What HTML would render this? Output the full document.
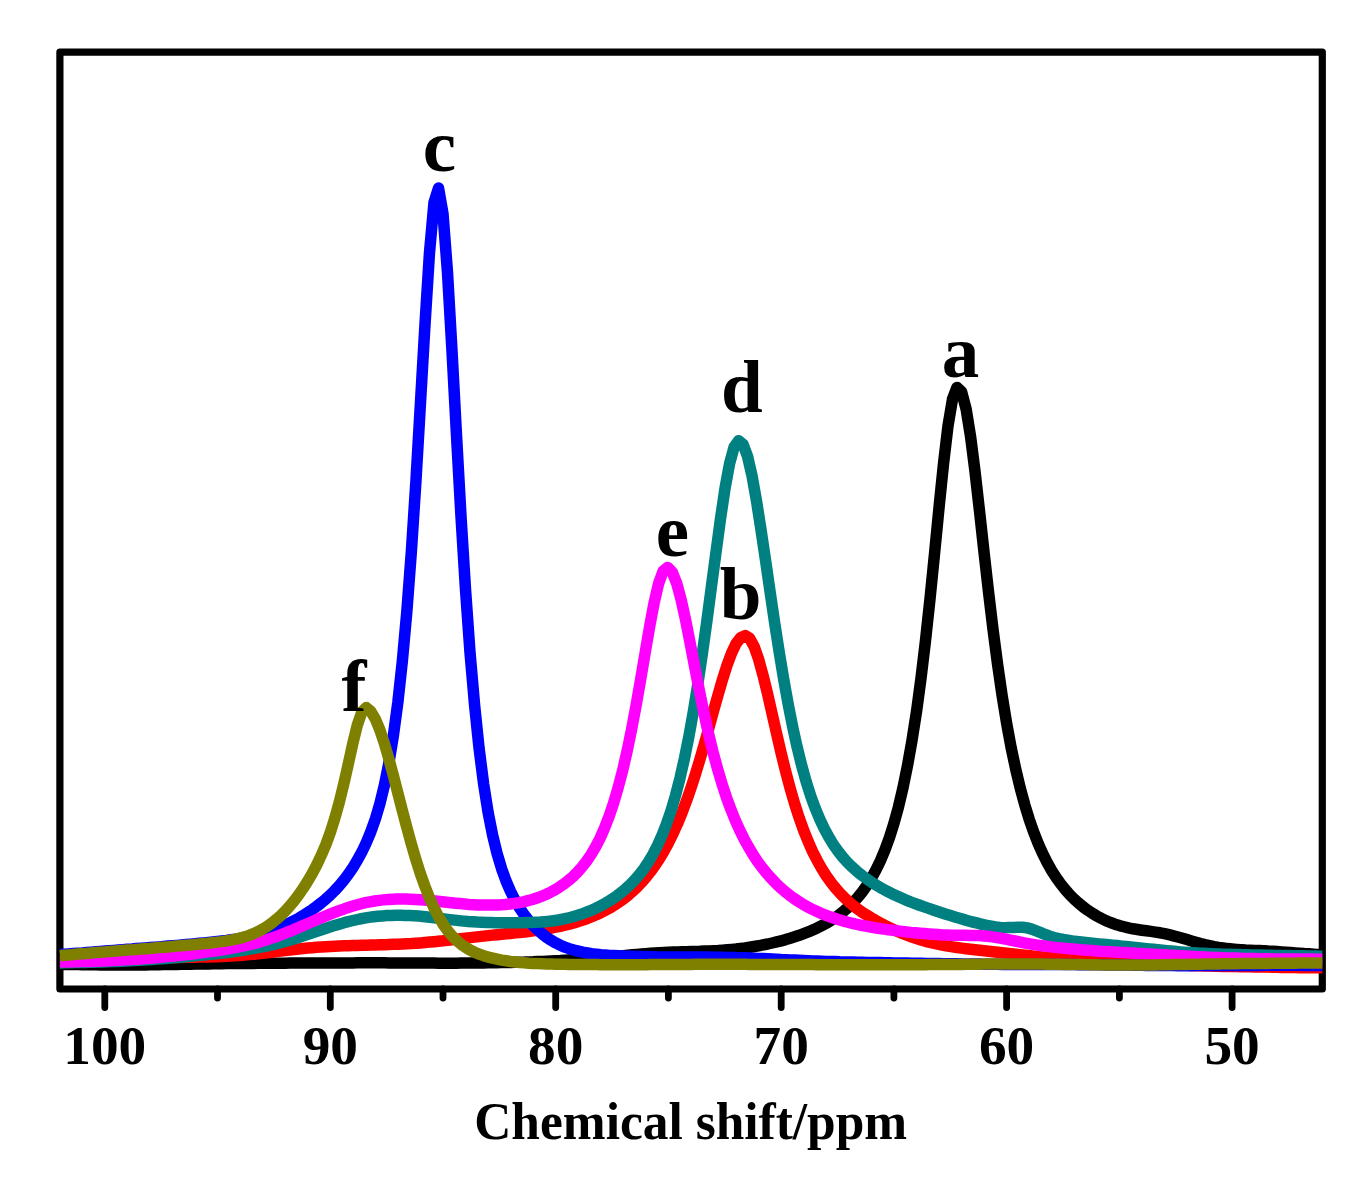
<!DOCTYPE html>
<html lang="en"><head><meta charset="utf-8"><title>Chemical shift spectra</title>
<style>html,body{margin:0;padding:0;background:#fff;}svg{display:block;}text{font-family:"Liberation Serif",serif;font-weight:bold;fill:#000;}.c{fill:none;stroke-width:11.5;stroke-linejoin:round;stroke-linecap:butt;}.t{stroke:#000;stroke-width:6.8;stroke-linecap:round;}</style></head>
<body>
<svg width="1363" height="1197" viewBox="0 0 1363 1197">
<rect width="1363" height="1197" fill="#fff"/>
<rect x="59.9" y="52.2" width="1262.4" height="936.8" fill="none" stroke="#000" stroke-width="7.2" stroke-linejoin="round"/>
<g class="t">
<line x1="104.8" y1="989.0" x2="104.8" y2="1007.6"/>
<line x1="217.5" y1="989.0" x2="217.5" y2="998.0"/>
<line x1="330.3" y1="989.0" x2="330.3" y2="1007.6"/>
<line x1="443.0" y1="989.0" x2="443.0" y2="998.0"/>
<line x1="555.7" y1="989.0" x2="555.7" y2="1007.6"/>
<line x1="668.4" y1="989.0" x2="668.4" y2="998.0"/>
<line x1="781.2" y1="989.0" x2="781.2" y2="1007.6"/>
<line x1="893.9" y1="989.0" x2="893.9" y2="998.0"/>
<line x1="1006.6" y1="989.0" x2="1006.6" y2="1007.6"/>
<line x1="1119.4" y1="989.0" x2="1119.4" y2="998.0"/>
<line x1="1232.1" y1="989.0" x2="1232.1" y2="1007.6"/>
</g>
<g>
<path class="c" stroke="#000000" d="M59.9 964.4L64.2 964.5L68.7 964.5L73.2 964.6L77.7 964.6L82.3 964.7L86.8 964.7L91.3 964.8L95.8 964.8L100.3 964.9L104.8 964.9L109.3 965.0L113.8 965.0L118.3 965.0L122.8 965.0L127.3 965.0L131.9 965.0L136.4 965.0L140.9 964.9L145.4 964.9L149.9 964.8L154.4 964.8L158.9 964.7L163.4 964.6L167.9 964.6L172.4 964.5L176.9 964.4L181.5 964.3L186.0 964.3L190.5 964.2L195.0 964.1L199.5 964.0L204.0 963.9L208.5 963.9L213.0 963.8L217.5 963.7L222.0 963.7L226.5 963.6L231.1 963.6L235.6 963.5L240.1 963.5L244.6 963.4L249.1 963.4L253.6 963.4L258.1 963.3L262.6 963.3L267.1 963.3L271.6 963.2L276.1 963.2L280.7 963.2L285.2 963.2L289.7 963.1L294.2 963.1L298.7 963.1L303.2 963.1L307.7 963.0L312.2 963.0L316.7 963.0L321.2 963.0L325.8 963.0L330.3 962.9L334.8 962.9L339.3 962.9L343.8 962.9L348.3 962.9L352.8 962.9L357.3 962.8L361.8 962.8L366.3 962.8L370.8 962.8L375.4 962.8L379.9 962.8L384.4 962.8L388.9 962.9L393.4 962.9L397.9 962.9L402.4 962.9L406.9 963.0L411.4 963.0L415.9 963.0L420.4 963.1L425.0 963.1L429.5 963.1L434.0 963.1L438.5 963.2L443.0 963.2L447.5 963.2L452.0 963.2L456.5 963.2L461.0 963.1L465.5 963.1L470.0 963.1L474.6 963.0L479.1 963.0L483.6 962.9L488.1 962.8L492.6 962.8L497.1 962.7L501.6 962.6L506.1 962.5L510.6 962.4L515.1 962.3L519.6 962.2L524.2 962.1L528.7 961.9L533.2 961.8L537.7 961.6L542.2 961.4L546.7 961.2L551.2 961.0L555.7 960.8L560.2 960.6L564.7 960.3L569.2 960.0L573.8 959.8L578.3 959.5L582.8 959.2L587.3 958.8L591.8 958.5L596.3 958.1L600.8 957.7L605.3 957.3L609.8 956.9L614.3 956.5L618.8 956.1L623.4 955.7L627.9 955.2L632.4 954.8L636.9 954.4L641.4 954.0L645.9 953.7L650.4 953.3L654.9 953.0L659.4 952.7L663.9 952.5L668.4 952.3L673.0 952.1L677.5 951.9L682.0 951.8L686.5 951.7L691.0 951.5L695.5 951.4L700.0 951.3L704.5 951.1L709.0 950.9L713.5 950.7L718.1 950.5L722.6 950.2L727.1 949.8L731.6 949.4L736.1 949.0L740.6 948.4L745.1 947.9L749.6 947.2L754.1 946.5L758.6 945.8L763.1 944.9L767.7 944.0L772.2 943.0L776.7 941.9L781.2 940.8L785.7 939.6L790.2 938.2L794.7 936.8L799.2 935.3L803.7 933.6L808.2 931.9L812.7 929.9L817.3 927.9L821.8 925.6L826.3 923.2L830.8 920.5L835.3 917.6L839.8 914.3L844.3 910.7L848.8 906.8L853.3 902.3L857.8 897.4L862.3 891.8L866.9 885.4L871.4 878.3L875.9 870.1L880.4 860.8L884.9 850.1L889.4 837.8L893.9 823.6L898.4 807.2L902.9 788.2L907.4 766.2L911.9 740.9L916.5 711.7L921.0 678.3L925.5 640.6L930.0 598.8L934.5 554.0L939.0 507.9L943.5 463.8L948.0 425.9L952.5 399.1L957.0 387.4L961.5 391.6L966.1 408.9L970.6 436.8L975.1 472.3L979.6 511.9L984.1 552.8L988.6 592.6L993.1 630.1L997.6 664.5L1002.1 695.5L1006.6 723.1L1011.1 747.5L1015.7 769.1L1020.2 788.0L1024.7 804.6L1029.2 819.3L1033.7 832.2L1038.2 843.6L1042.7 853.7L1047.2 862.6L1051.7 870.6L1056.2 877.6L1060.8 884.0L1065.3 889.6L1069.8 894.7L1074.3 899.2L1078.8 903.3L1083.3 907.0L1087.8 910.3L1092.3 913.3L1096.8 916.0L1101.3 918.4L1105.8 920.6L1110.4 922.5L1114.9 924.2L1119.4 925.6L1123.9 926.8L1128.4 927.9L1132.9 928.8L1137.4 929.5L1141.9 930.2L1146.4 930.8L1150.9 931.4L1155.4 932.1L1160.0 932.8L1164.5 933.7L1169.0 934.7L1173.5 935.8L1178.0 937.0L1182.5 938.3L1187.0 939.6L1191.5 940.9L1196.0 942.2L1200.5 943.5L1205.0 944.6L1209.6 945.6L1214.1 946.6L1218.6 947.4L1223.1 948.0L1227.6 948.6L1232.1 949.0L1236.6 949.4L1241.1 949.7L1245.6 950.0L1250.1 950.2L1254.6 950.4L1259.2 950.6L1263.7 950.8L1268.2 951.1L1272.7 951.3L1277.2 951.6L1281.7 951.9L1286.2 952.2L1290.7 952.5L1295.2 952.9L1299.7 953.2L1304.2 953.6L1308.8 953.8L1313.3 954.2L1317.8 954.5L1322.3 954.9"/>
<path class="c" stroke="#ff0000" d="M59.9 962.1L64.2 962.0L68.7 962.0L73.2 961.9L77.7 961.8L82.3 961.7L86.8 961.6L91.3 961.5L95.8 961.3L100.3 961.2L104.8 961.1L109.3 960.9L113.8 960.7L118.3 960.6L122.8 960.3L127.3 960.1L131.9 959.9L136.4 959.6L140.9 959.3L145.4 959.0L149.9 958.7L154.4 958.5L158.9 958.2L163.4 958.0L167.9 957.8L172.4 957.7L176.9 957.6L181.5 957.4L186.0 957.3L190.5 957.3L195.0 957.2L199.5 957.1L204.0 957.0L208.5 956.9L213.0 956.8L217.5 956.7L222.0 956.5L226.5 956.3L231.1 956.0L235.6 955.8L240.1 955.4L244.6 955.0L249.1 954.6L253.6 954.2L258.1 953.7L262.6 953.2L267.1 952.7L271.6 952.2L276.1 951.6L280.7 951.1L285.2 950.5L289.7 950.0L294.2 949.5L298.7 949.0L303.2 948.5L307.7 948.1L312.2 947.7L316.7 947.3L321.2 947.0L325.8 946.7L330.3 946.4L334.8 946.2L339.3 946.0L343.8 945.8L348.3 945.7L352.8 945.5L357.3 945.4L361.8 945.3L366.3 945.2L370.8 945.0L375.4 944.9L379.9 944.8L384.4 944.7L388.9 944.5L393.4 944.3L397.9 944.2L402.4 943.9L406.9 943.7L411.4 943.5L415.9 943.2L420.4 942.9L425.0 942.5L429.5 942.1L434.0 941.7L438.5 941.2L443.0 940.8L447.5 940.2L452.0 939.7L456.5 939.2L461.0 938.6L465.5 938.1L470.0 937.6L474.6 937.1L479.1 936.6L483.6 936.1L488.1 935.6L492.6 935.1L497.1 934.7L501.6 934.2L506.1 933.8L510.6 933.4L515.1 932.9L519.6 932.5L524.2 932.0L528.7 931.5L533.2 930.9L537.7 930.3L542.2 929.6L546.7 928.9L551.2 928.1L555.7 927.2L560.2 926.3L564.7 925.2L569.2 924.1L573.8 922.9L578.3 921.5L582.8 920.1L587.3 918.5L591.8 916.7L596.3 914.8L600.8 912.7L605.3 910.4L609.8 908.0L614.3 905.2L618.8 902.2L623.4 899.0L627.9 895.4L632.4 891.5L636.9 887.3L641.4 882.6L645.9 877.5L650.4 871.8L654.9 865.6L659.4 858.8L663.9 851.2L668.4 842.9L673.0 833.7L677.5 823.7L682.0 812.7L686.5 800.8L691.0 787.8L695.5 773.9L700.0 759.1L704.5 743.6L709.0 727.4L713.5 711.0L718.1 694.8L722.6 679.2L727.1 665.1L731.6 653.0L736.1 643.6L740.6 637.7L745.1 635.6L749.6 638.2L754.1 646.4L758.6 659.2L763.1 675.7L767.7 694.4L772.2 714.2L776.7 734.1L781.2 753.4L785.7 771.7L790.2 788.5L794.7 804.0L799.2 817.9L803.7 830.5L808.2 841.7L812.7 851.8L817.3 860.7L821.8 868.7L826.3 875.9L830.8 882.2L835.3 887.9L839.8 893.0L844.3 897.6L848.8 901.8L853.3 905.6L857.8 909.1L862.3 912.3L866.9 915.2L871.4 918.0L875.9 920.6L880.4 923.0L884.9 925.4L889.4 927.6L893.9 929.7L898.4 931.7L902.9 933.6L907.4 935.3L911.9 937.0L916.5 938.5L921.0 940.0L925.5 941.3L930.0 942.4L934.5 943.5L939.0 944.5L943.5 945.4L948.0 946.2L952.5 946.9L957.0 947.5L961.5 948.1L966.1 948.7L970.6 949.2L975.1 949.7L979.6 950.2L984.1 950.7L988.6 951.2L993.1 951.7L997.6 952.2L1002.1 952.7L1006.6 953.2L1011.1 953.7L1015.7 954.2L1020.2 954.7L1024.7 955.2L1029.2 955.6L1033.7 956.1L1038.2 956.5L1042.7 956.9L1047.2 957.4L1051.7 957.7L1056.2 958.1L1060.8 958.5L1065.3 958.8L1069.8 959.2L1074.3 959.5L1078.8 959.8L1083.3 960.1L1087.8 960.4L1092.3 960.7L1096.8 960.9L1101.3 961.2L1105.8 961.5L1110.4 961.7L1114.9 961.9L1119.4 962.2L1123.9 962.4L1128.4 962.6L1132.9 962.9L1137.4 963.1L1141.9 963.3L1146.4 963.5L1150.9 963.8L1155.4 964.0L1160.0 964.2L1164.5 964.4L1169.0 964.6L1173.5 964.8L1178.0 965.0L1182.5 965.2L1187.0 965.3L1191.5 965.5L1196.0 965.7L1200.5 965.8L1205.0 965.9L1209.6 966.0L1214.1 966.2L1218.6 966.3L1223.1 966.4L1227.6 966.4L1232.1 966.5L1236.6 966.6L1241.1 966.7L1245.6 966.8L1250.1 966.8L1254.6 966.9L1259.2 967.0L1263.7 967.1L1268.2 967.1L1272.7 967.2L1277.2 967.3L1281.7 967.4L1286.2 967.5L1290.7 967.5L1295.2 967.6L1299.7 967.7L1304.2 967.7L1308.8 967.6L1313.3 967.7L1317.8 967.8L1322.3 967.8"/>
<path class="c" stroke="#0000ff" d="M59.9 954.6L64.2 954.3L68.7 954.0L73.2 953.6L77.7 953.2L82.3 952.9L86.8 952.5L91.3 952.2L95.8 951.8L100.3 951.4L104.8 951.1L109.3 950.7L113.8 950.4L118.3 950.0L122.8 949.7L127.3 949.3L131.9 949.0L136.4 948.6L140.9 948.3L145.4 947.9L149.9 947.6L154.4 947.2L158.9 946.9L163.4 946.5L167.9 946.1L172.4 945.7L176.9 945.4L181.5 945.0L186.0 944.6L190.5 944.2L195.0 943.8L199.5 943.3L204.0 942.9L208.5 942.5L213.0 942.0L217.5 941.5L222.0 940.9L226.5 940.4L231.1 939.7L235.6 939.1L240.1 938.3L244.6 937.5L249.1 936.6L253.6 935.6L258.1 934.5L262.6 933.2L267.1 931.8L271.6 930.3L276.1 928.7L280.7 926.9L285.2 925.0L289.7 922.9L294.2 920.6L298.7 918.2L303.2 915.6L307.7 912.7L312.2 909.7L316.7 906.4L321.2 902.9L325.8 899.1L330.3 895.0L334.8 890.5L339.3 885.6L343.8 880.2L348.3 874.3L352.8 867.7L357.3 860.3L361.8 852.1L366.3 842.6L370.8 831.7L375.4 818.9L379.9 803.6L384.4 785.2L388.9 762.9L393.4 735.5L397.9 701.9L402.4 660.7L406.9 610.8L411.4 551.1L415.9 481.6L420.4 404.2L425.0 324.4L429.5 252.4L434.0 202.5L438.5 188.1L443.0 213.7L447.5 272.5L452.0 350.9L456.5 435.3L461.0 516.5L465.5 589.4L470.0 652.4L474.6 705.2L479.1 748.6L483.6 783.8L488.1 812.3L492.6 835.1L497.1 853.6L501.6 868.7L506.1 881.1L510.6 891.5L515.1 900.4L519.6 908.0L524.2 914.7L528.7 920.5L533.2 925.6L537.7 930.0L542.2 933.9L546.7 937.4L551.2 940.3L555.7 942.9L560.2 945.2L564.7 947.1L569.2 948.7L573.8 950.1L578.3 951.2L582.8 952.2L587.3 953.0L591.8 953.7L596.3 954.2L600.8 954.7L605.3 955.0L609.8 955.4L614.3 955.6L618.8 955.8L623.4 956.0L627.9 956.2L632.4 956.3L636.9 956.4L641.4 956.6L645.9 956.6L650.4 956.7L654.9 956.8L659.4 956.9L663.9 956.9L668.4 956.9L673.0 957.0L677.5 957.0L682.0 957.0L686.5 957.0L691.0 957.0L695.5 957.0L700.0 957.1L704.5 957.1L709.0 957.1L713.5 957.2L718.1 957.2L722.6 957.3L727.1 957.4L731.6 957.4L736.1 957.6L740.6 957.7L745.1 957.8L749.6 958.0L754.1 958.2L758.6 958.4L763.1 958.6L767.7 958.8L772.2 959.0L776.7 959.2L781.2 959.5L785.7 959.7L790.2 959.9L794.7 960.1L799.2 960.3L803.7 960.5L808.2 960.7L812.7 960.9L817.3 961.1L821.8 961.2L826.3 961.4L830.8 961.5L835.3 961.6L839.8 961.8L844.3 961.9L848.8 962.0L853.3 962.1L857.8 962.2L862.3 962.3L866.9 962.4L871.4 962.5L875.9 962.6L880.4 962.6L884.9 962.7L889.4 962.8L893.9 962.9L898.4 963.0L902.9 963.0L907.4 963.1L911.9 963.2L916.5 963.2L921.0 963.3L925.5 963.4L930.0 963.5L934.5 963.5L939.0 963.6L943.5 963.7L948.0 963.7L952.5 963.8L957.0 963.8L961.5 963.9L966.1 964.0L970.6 964.0L975.1 964.1L979.6 964.1L984.1 964.2L988.6 964.2L993.1 964.3L997.6 964.3L1002.1 964.4L1006.6 964.4L1011.1 964.4L1015.7 964.5L1020.2 964.5L1024.7 964.5L1029.2 964.5L1033.7 964.6L1038.2 964.6L1042.7 964.6L1047.2 964.6L1051.7 964.6L1056.2 964.6L1060.8 964.6L1065.3 964.6L1069.8 964.6L1074.3 964.6L1078.8 964.7L1083.3 964.7L1087.8 964.7L1092.3 964.7L1096.8 964.8L1101.3 964.8L1105.8 964.9L1110.4 964.9L1114.9 965.0L1119.4 965.0L1123.9 965.1L1128.4 965.1L1132.9 965.2L1137.4 965.3L1141.9 965.3L1146.4 965.4L1150.9 965.4L1155.4 965.5L1160.0 965.5L1164.5 965.6L1169.0 965.6L1173.5 965.6L1178.0 965.7L1182.5 965.7L1187.0 965.7L1191.5 965.7L1196.0 965.6L1200.5 965.6L1205.0 965.6L1209.6 965.6L1214.1 965.6L1218.6 965.5L1223.1 965.5L1227.6 965.5L1232.1 965.5L1236.6 965.4L1241.1 965.4L1245.6 965.4L1250.1 965.4L1254.6 965.4L1259.2 965.4L1263.7 965.3L1268.2 965.3L1272.7 965.3L1277.2 965.3L1281.7 965.3L1286.2 965.3L1290.7 965.3L1295.2 965.3L1299.7 965.3L1304.2 965.4L1308.8 965.4L1313.3 965.4L1317.8 965.4L1322.3 965.5"/>
<path class="c" stroke="#008080" d="M59.9 962.9L62.2 962.9L66.7 962.8L71.2 962.7L75.7 962.6L80.3 962.5L84.8 962.4L89.3 962.3L93.8 962.2L98.3 962.0L102.8 961.9L107.3 961.7L111.8 961.6L116.3 961.4L120.8 961.2L125.3 961.0L129.9 960.7L134.4 960.5L138.9 960.3L143.4 960.0L147.9 959.7L152.4 959.4L156.9 959.1L161.4 958.7L165.9 958.4L170.4 958.0L174.9 957.7L179.5 957.3L184.0 956.9L188.5 956.5L193.0 956.1L197.5 955.6L202.0 955.2L206.5 954.8L211.0 954.3L215.5 953.8L220.0 953.3L224.5 952.7L229.1 952.2L233.6 951.6L238.1 951.0L242.6 950.3L247.1 949.6L251.6 948.9L256.1 948.1L260.6 947.2L265.1 946.3L269.6 945.3L274.1 944.3L278.7 943.2L283.2 942.0L287.7 940.7L292.2 939.4L296.7 938.1L301.2 936.6L305.7 935.1L310.2 933.6L314.7 932.1L319.2 930.6L323.8 929.0L328.3 927.5L332.8 926.1L337.3 924.7L341.8 923.4L346.3 922.1L350.8 921.0L355.3 920.0L359.8 919.0L364.3 918.2L368.8 917.4L373.4 916.8L377.9 916.3L382.4 915.9L386.9 915.6L391.4 915.4L395.9 915.3L400.4 915.3L404.9 915.4L409.4 915.5L413.9 915.8L418.4 916.1L423.0 916.5L427.5 917.0L432.0 917.5L436.5 918.0L441.0 918.5L445.5 919.1L450.0 919.6L454.5 920.1L459.0 920.6L463.5 921.1L468.0 921.5L472.6 921.8L477.1 922.1L481.6 922.3L486.1 922.5L490.6 922.6L495.1 922.7L499.6 922.8L504.1 922.8L508.6 922.8L513.1 922.8L517.6 922.8L522.2 922.7L526.7 922.6L531.2 922.5L535.7 922.3L540.2 922.1L544.7 921.7L549.2 921.3L553.7 920.7L558.2 920.0L562.7 919.1L567.2 918.2L571.8 917.0L576.3 915.7L580.8 914.3L585.3 912.7L589.8 910.9L594.3 908.9L598.8 906.8L603.3 904.4L607.8 901.8L612.3 899.0L616.8 895.9L621.4 892.4L625.9 888.6L630.4 884.5L634.9 879.8L639.4 874.6L643.9 868.7L648.4 862.0L652.9 854.4L657.4 845.7L661.9 835.6L666.4 824.1L671.0 810.8L675.5 795.5L680.0 778.1L684.5 758.2L689.0 735.8L693.5 710.7L698.0 682.9L702.5 652.6L707.0 620.1L711.5 586.0L716.1 551.4L720.6 518.1L725.1 487.9L729.6 463.5L734.1 447.1L738.6 440.7L743.1 444.4L747.6 456.6L752.1 476.3L756.6 501.6L761.1 530.5L765.7 561.4L770.2 592.6L774.7 623.1L779.2 652.2L783.7 679.3L788.2 704.3L792.7 727.0L797.2 747.4L801.7 765.6L806.2 781.7L810.7 795.9L815.3 808.4L819.8 819.3L824.3 828.8L828.8 837.1L833.3 844.5L837.8 850.9L842.3 856.6L846.8 861.7L851.3 866.2L855.8 870.3L860.3 874.1L864.9 877.5L869.4 880.7L873.9 883.7L878.4 886.4L882.9 889.0L887.4 891.4L891.9 893.7L896.4 895.8L900.9 897.8L905.4 899.8L909.9 901.6L914.5 903.3L919.0 905.0L923.5 906.6L928.0 908.2L932.5 909.7L937.0 911.2L941.5 912.7L946.0 914.2L950.5 915.6L955.0 917.0L959.5 918.3L964.1 919.6L968.6 920.9L973.1 922.1L977.6 923.2L982.1 924.3L986.6 925.3L991.1 926.2L995.6 927.0L1000.1 927.5L1004.6 927.7L1009.1 927.6L1013.7 927.4L1018.2 927.2L1022.7 927.3L1027.2 927.9L1031.7 929.1L1036.2 930.8L1040.7 932.6L1045.2 934.5L1049.7 936.2L1054.2 937.5L1058.8 938.6L1063.3 939.5L1067.8 940.2L1072.3 940.9L1076.8 941.4L1081.3 942.0L1085.8 942.5L1090.3 943.0L1094.8 943.4L1099.3 943.9L1103.8 944.3L1108.4 944.8L1112.9 945.2L1117.4 945.6L1121.9 946.1L1126.4 946.5L1130.9 947.0L1135.4 947.4L1139.9 947.9L1144.4 948.4L1148.9 948.9L1153.4 949.3L1158.0 949.8L1162.5 950.3L1167.0 950.7L1171.5 951.1L1176.0 951.5L1180.5 951.9L1185.0 952.3L1189.5 952.6L1194.0 952.8L1198.5 953.1L1203.0 953.3L1207.6 953.5L1212.1 953.7L1216.6 953.9L1221.1 954.1L1225.6 954.2L1230.1 954.3L1234.6 954.5L1239.1 954.6L1243.6 954.7L1248.1 954.8L1252.6 954.9L1257.2 955.0L1261.7 955.1L1266.2 955.2L1270.7 955.3L1275.2 955.4L1279.7 955.4L1284.2 955.5L1288.7 955.6L1293.2 955.7L1297.7 955.7L1302.2 955.8L1306.8 955.9L1311.3 956.1L1315.8 956.1L1320.3 956.2L1322.3 956.2"/>
<path class="c" stroke="#ff00ff" d="M59.9 962.0L63.4 962.0L67.9 961.9L72.4 961.8L76.9 961.7L81.5 961.6L86.0 961.5L90.5 961.4L95.0 961.2L99.5 961.1L104.0 960.9L108.5 960.7L113.0 960.5L117.5 960.3L122.0 960.1L126.5 959.8L131.1 959.6L135.6 959.3L140.1 958.9L144.6 958.6L149.1 958.3L153.6 957.9L158.1 957.5L162.6 957.1L167.1 956.6L171.6 956.2L176.1 955.7L180.7 955.2L185.2 954.7L189.7 954.2L194.2 953.7L198.7 953.1L203.2 952.5L207.7 951.9L212.2 951.3L216.7 950.7L221.2 950.0L225.7 949.3L230.3 948.5L234.8 947.7L239.3 946.8L243.8 945.9L248.3 944.9L252.8 943.8L257.3 942.6L261.8 941.3L266.3 939.9L270.8 938.4L275.3 936.8L279.9 935.2L284.4 933.4L288.9 931.6L293.4 929.8L297.9 927.8L302.4 925.9L306.9 923.9L311.4 922.0L315.9 920.0L320.4 918.1L325.0 916.2L329.5 914.4L334.0 912.6L338.5 910.9L343.0 909.3L347.5 907.7L352.0 906.3L356.5 905.0L361.0 903.8L365.5 902.7L370.0 901.8L374.6 901.0L379.1 900.4L383.6 899.9L388.1 899.5L392.6 899.2L397.1 899.1L401.6 899.0L406.1 899.1L410.6 899.2L415.1 899.4L419.6 899.7L424.2 900.0L428.7 900.4L433.2 900.8L437.7 901.3L442.2 901.8L446.7 902.2L451.2 902.7L455.7 903.2L460.2 903.6L464.7 904.0L469.2 904.4L473.8 904.7L478.3 904.9L482.8 905.1L487.3 905.1L491.8 905.1L496.3 905.0L500.8 904.8L505.3 904.5L509.8 904.0L514.3 903.4L518.8 902.7L523.4 901.8L527.9 900.7L532.4 899.5L536.9 898.0L541.4 896.4L545.9 894.5L550.4 892.3L554.9 889.9L559.4 887.1L563.9 884.0L568.4 880.5L573.0 876.6L577.5 872.1L582.0 867.0L586.5 861.3L591.0 854.6L595.5 847.0L600.0 838.3L604.5 828.2L609.0 816.6L613.5 803.3L618.0 788.1L622.6 770.7L627.1 751.1L631.6 729.3L636.1 705.4L640.6 679.7L645.1 653.1L649.6 626.8L654.1 602.9L658.6 583.5L663.1 571.1L667.6 567.4L672.2 572.0L676.7 583.3L681.2 600.0L685.7 620.6L690.2 643.4L694.7 666.8L699.2 689.9L703.7 711.8L708.2 732.3L712.7 750.9L717.3 767.9L721.8 783.2L726.3 796.9L730.8 809.2L735.3 820.4L739.8 830.4L744.3 839.4L748.8 847.6L753.3 855.0L757.8 861.8L762.3 867.9L766.9 873.5L771.4 878.6L775.9 883.3L780.4 887.6L784.9 891.5L789.4 895.1L793.9 898.4L798.4 901.4L802.9 904.2L807.4 906.8L811.9 909.1L816.5 911.3L821.0 913.3L825.5 915.1L830.0 916.8L834.5 918.3L839.0 919.7L843.5 921.1L848.0 922.3L852.5 923.4L857.0 924.4L861.5 925.3L866.1 926.2L870.6 927.0L875.1 927.8L879.6 928.5L884.1 929.1L888.6 929.8L893.1 930.3L897.6 930.9L902.1 931.4L906.6 931.9L911.1 932.4L915.7 932.8L920.2 933.2L924.7 933.6L929.2 934.0L933.7 934.3L938.2 934.6L942.7 934.9L947.2 935.0L951.7 935.2L956.2 935.2L960.7 935.3L965.3 935.3L969.8 935.4L974.3 935.4L978.8 935.6L983.3 935.9L987.8 936.3L992.3 936.9L996.8 937.6L1001.3 938.3L1005.8 939.2L1010.3 940.1L1014.9 941.0L1019.4 941.9L1023.9 942.8L1028.4 943.6L1032.9 944.4L1037.4 945.1L1041.9 945.7L1046.4 946.3L1050.9 946.9L1055.4 947.4L1060.0 947.9L1064.5 948.3L1069.0 948.7L1073.5 949.1L1078.0 949.5L1082.5 949.9L1087.0 950.2L1091.5 950.5L1096.0 950.9L1100.5 951.2L1105.0 951.4L1109.6 951.7L1114.1 952.0L1118.6 952.3L1123.1 952.5L1127.6 952.8L1132.1 953.0L1136.6 953.3L1141.1 953.5L1145.6 953.8L1150.1 954.0L1154.6 954.3L1159.2 954.5L1163.7 954.8L1168.2 955.1L1172.7 955.3L1177.2 955.6L1181.7 955.8L1186.2 956.1L1190.7 956.3L1195.2 956.6L1199.7 956.8L1204.2 957.0L1208.8 957.2L1213.3 957.4L1217.8 957.5L1222.3 957.7L1226.8 957.9L1231.3 958.0L1235.8 958.1L1240.3 958.3L1244.8 958.4L1249.3 958.5L1253.8 958.6L1258.4 958.7L1262.9 958.7L1267.4 958.8L1271.9 958.9L1276.4 958.9L1280.9 959.0L1285.4 959.0L1289.9 959.1L1294.4 959.1L1298.9 959.1L1303.4 959.2L1308.0 959.1L1312.5 959.1L1317.0 959.2L1322.3 959.2"/>
<path class="c" stroke="#808000" d="M59.9 955.7L64.2 955.3L68.7 954.9L73.2 954.5L77.7 954.1L82.3 953.7L86.8 953.4L91.3 953.0L95.8 952.6L100.3 952.2L104.8 951.9L109.3 951.5L113.8 951.2L118.3 950.8L122.8 950.5L127.3 950.1L131.9 949.8L136.4 949.4L140.9 949.1L145.4 948.7L149.9 948.4L154.4 948.0L158.9 947.6L163.4 947.2L167.9 946.9L172.4 946.5L176.9 946.1L181.5 945.7L186.0 945.3L190.5 944.9L195.0 944.5L199.5 944.1L204.0 943.6L208.5 943.2L213.0 942.7L217.5 942.1L222.0 941.6L226.5 940.9L231.1 940.1L235.6 939.2L240.1 938.1L244.6 936.9L249.1 935.4L253.6 933.6L258.1 931.5L262.6 929.1L267.1 926.4L271.6 923.2L276.1 919.6L280.7 915.6L285.2 911.1L289.7 906.1L294.2 900.7L298.7 894.8L303.2 888.3L307.7 881.2L312.2 873.5L316.7 865.0L321.2 855.4L325.8 844.7L330.3 832.4L334.8 818.3L339.3 802.1L343.8 783.8L348.3 763.9L352.8 743.6L357.3 725.2L361.8 712.1L366.3 707.6L370.8 711.4L375.4 719.1L379.9 730.0L384.4 743.5L388.9 759.0L393.4 775.8L397.9 793.2L402.4 810.7L406.9 827.8L411.4 844.2L415.9 859.6L420.4 873.7L425.0 886.5L429.5 897.9L434.0 907.9L438.5 916.7L443.0 924.1L447.5 930.5L452.0 935.9L456.5 940.4L461.0 944.2L465.5 947.3L470.0 950.0L474.6 952.2L479.1 954.1L483.6 955.7L488.1 957.1L492.6 958.2L497.1 959.2L501.6 960.1L506.1 960.8L510.6 961.5L515.1 962.0L519.6 962.5L524.2 962.8L528.7 963.2L533.2 963.4L537.7 963.6L542.2 963.8L546.7 964.0L551.2 964.1L555.7 964.2L560.2 964.3L564.7 964.3L569.2 964.4L573.8 964.5L578.3 964.5L582.8 964.6L587.3 964.6L591.8 964.6L596.3 964.6L600.8 964.7L605.3 964.7L609.8 964.7L614.3 964.7L618.8 964.7L623.4 964.7L627.9 964.7L632.4 964.7L636.9 964.7L641.4 964.7L645.9 964.7L650.4 964.6L654.9 964.6L659.4 964.6L663.9 964.6L668.4 964.5L673.0 964.5L677.5 964.4L682.0 964.4L686.5 964.4L691.0 964.4L695.5 964.3L700.0 964.3L704.5 964.3L709.0 964.3L713.5 964.3L718.1 964.3L722.6 964.3L727.1 964.3L731.6 964.3L736.1 964.3L740.6 964.3L745.1 964.3L749.6 964.4L754.1 964.4L758.6 964.4L763.1 964.4L767.7 964.4L772.2 964.4L776.7 964.4L781.2 964.5L785.7 964.5L790.2 964.5L794.7 964.5L799.2 964.6L803.7 964.6L808.2 964.6L812.7 964.6L817.3 964.7L821.8 964.7L826.3 964.7L830.8 964.8L835.3 964.8L839.8 964.8L844.3 964.8L848.8 964.8L853.3 964.8L857.8 964.8L862.3 964.8L866.9 964.8L871.4 964.8L875.9 964.8L880.4 964.8L884.9 964.8L889.4 964.8L893.9 964.8L898.4 964.8L902.9 964.8L907.4 964.8L911.9 964.7L916.5 964.7L921.0 964.7L925.5 964.7L930.0 964.6L934.5 964.6L939.0 964.6L943.5 964.5L948.0 964.5L952.5 964.4L957.0 964.4L961.5 964.4L966.1 964.3L970.6 964.3L975.1 964.2L979.6 964.2L984.1 964.1L988.6 964.1L993.1 964.0L997.6 964.0L1002.1 964.0L1006.6 964.0L1011.1 964.0L1015.7 964.0L1020.2 964.0L1024.7 964.0L1029.2 964.0L1033.7 964.0L1038.2 964.1L1042.7 964.1L1047.2 964.2L1051.7 964.2L1056.2 964.3L1060.8 964.3L1065.3 964.4L1069.8 964.4L1074.3 964.5L1078.8 964.6L1083.3 964.6L1087.8 964.7L1092.3 964.8L1096.8 964.8L1101.3 964.9L1105.8 964.9L1110.4 965.0L1114.9 965.0L1119.4 965.0L1123.9 965.1L1128.4 965.1L1132.9 965.1L1137.4 965.1L1141.9 965.1L1146.4 965.0L1150.9 965.0L1155.4 964.9L1160.0 964.8L1164.5 964.8L1169.0 964.7L1173.5 964.6L1178.0 964.6L1182.5 964.5L1187.0 964.4L1191.5 964.3L1196.0 964.2L1200.5 964.2L1205.0 964.1L1209.6 964.0L1214.1 963.9L1218.6 963.9L1223.1 963.8L1227.6 963.8L1232.1 963.7L1236.6 963.7L1241.1 963.6L1245.6 963.6L1250.1 963.5L1254.6 963.5L1259.2 963.4L1263.7 963.4L1268.2 963.4L1272.7 963.3L1277.2 963.3L1281.7 963.3L1286.2 963.2L1290.7 963.2L1295.2 963.2L1299.7 963.1L1304.2 963.1L1308.8 963.1L1313.3 963.1L1317.8 963.1L1322.3 963.1"/>
</g>
<g font-size="55.3" text-anchor="middle">
<text x="104.8" y="1063.8">100</text>
<text x="330.3" y="1063.8">90</text>
<text x="555.7" y="1063.8">80</text>
<text x="781.2" y="1063.8">70</text>
<text x="1006.6" y="1063.8">60</text>
<text x="1232.1" y="1063.8">50</text>
</g>
<text x="690.7" y="1138.6" font-size="52.5" text-anchor="middle" textLength="433" lengthAdjust="spacingAndGlyphs">Chemical shift/ppm</text>
<g font-size="75" text-anchor="middle">
<text x="960.6" y="376.5">a</text>
<text x="740.5" y="619.0">b</text>
<text x="439.5" y="170.6">c</text>
<text x="741.8" y="411.5">d</text>
<text x="672.4" y="556.4">e</text>
<text x="354.0" y="711.1">f</text>
</g>
</svg>
</body></html>
